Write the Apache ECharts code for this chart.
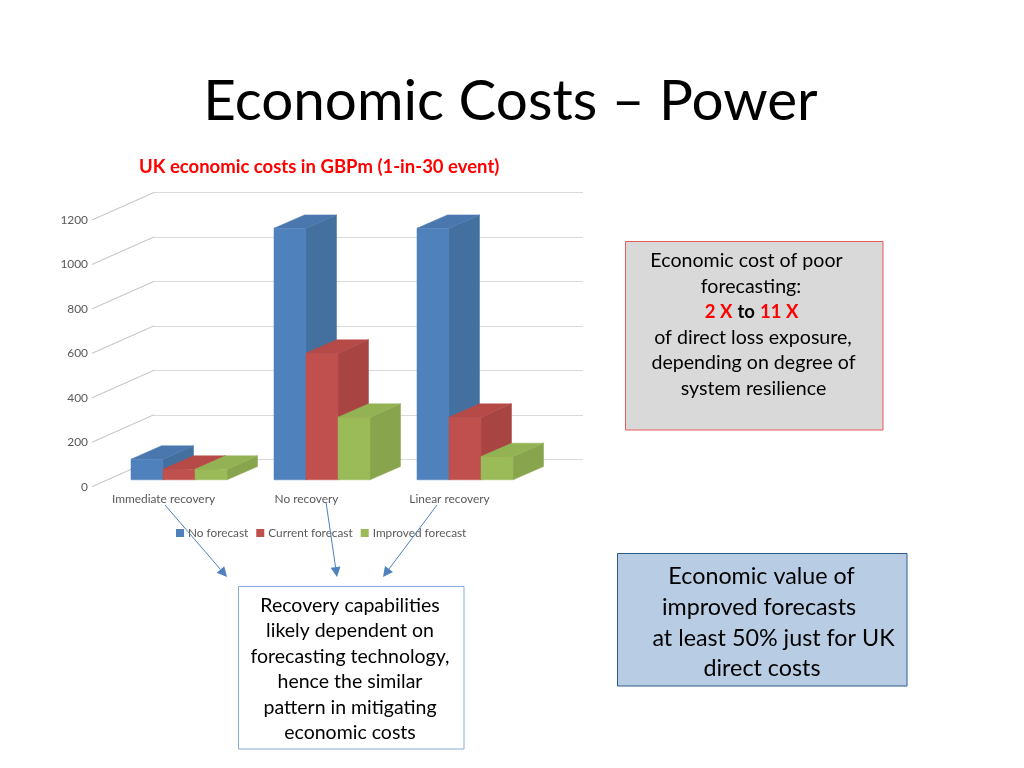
<!DOCTYPE html>
<html><head><meta charset="utf-8">
<style>html,body{margin:0;padding:0;background:#fff}#c{width:1024px;height:768px}</style>
<script src="https://cdn.jsdelivr.net/npm/echarts@6/dist/echarts.min.js"></script>
</head><body><div id="c"></div>
<script>
const categories = ['Immediate recovery', 'No recovery', 'Linear recovery'];
const noForecast = [93, 1132, 1132];
const currentForecast = [48, 570, 282];
const improvedForecast = [48, 282, 105];
const yTicks = [0, 200, 400, 600, 800, 1000, 1200];
const costLines = [
  ['Economic cost of poor', 746.5, 261], ['forecasting:', 751, 287], ['RICH', 751.5, 312],
  ['of direct loss exposure,', 753, 338], ['depending on degree of', 753.5, 363], ['system resilience', 753.5, 389]];
const valueLines = [
  ['Economic value of', 761.5, 576], ['improved forecasts', 759, 607],
  ['at least 50% just for UK', 773.5, 638], ['direct costs', 762, 668.5]];
const recoveryLines = [
  ['Recovery capabilities', 350, 605.5], ['likely dependent on', 350, 630.5], ['forecasting technology,', 350, 656.5],
  ['hence the similar', 350, 681.5], ['pattern in mitigating', 350, 707.5], ['economic costs', 350, 732.5]];
const arrows = [[165, 505, 227, 577], [326, 502, 337, 577], [437, 505, 383, 577]];

const FONT = 'Lato, Carlito, "Open Sans", sans-serif';
const DX = 62, DY = 27.5;           // full floor depth of the 3D wall
const BAR = 0.2238;                 // bar width as share of a category band
const chart = echarts.init(document.getElementById('c'), null, {renderer: 'canvas'});

function bars3d(offset, front, top, side) {
  return function (params, api) {
    const cat = api.value(0), v = api.value(1);
    const pt = api.coord([cat, v]), p0 = api.coord([cat, 0]);
    const w = api.size([1, 0])[0] * BAR;
    const x = pt[0] + (offset - 1.5) * w + DX / 4;
    const yt = pt[1] - DY / 4, yb = p0[1] - DY / 4;
    const dx = DX / 2 - 0.5, dy = DY / 2 - 0.4;
    const poly = (points, fill) => ({type: 'polygon', shape: {points}, style: {fill, stroke: fill, lineWidth: 0.5}});
    return {type: 'group', children: [
      poly([[x + w, yt], [x + w + dx, yt - dy], [x + w + dx, yb - dy], [x + w, yb]], side),
      poly([[x, yt], [x + dx, yt - dy], [x + w + dx, yt - dy], [x + w, yt]], top),
      poly([[x, yt], [x + w, yt], [x + w, yb], [x, yb]], front)
    ]};
  };
}
function barSeries(name, values, offset, front, top, side) {
  return {
    type: 'custom', name, xAxisIndex: 0, yAxisIndex: 0, clip: false,
    itemStyle: {color: front},
    data: values.map((v, i) => [i, v]),
    encode: {x: 0, y: 1},
    renderItem: bars3d(offset, front, top, side)
  };
}
const txt = (t, x, y, size, extra) => ({type: 'text', x, y, z: 20, style: Object.assign({
  text: t, fontFamily: FONT, fontSize: size, fill: '#000', align: 'center', verticalAlign: 'middle'}, extra || {})});
const graphics = [
  {type: 'rect', z: 10, shape: {x: 625.5, y: 241.5, width: 257.5, height: 188.5}, style: {fill: '#d9d9d9', stroke: '#e8595c', lineWidth: 1}},
  {type: 'rect', z: 10, shape: {x: 617.5, y: 553.5, width: 289.5, height: 132.5}, style: {fill: '#b8cce4', stroke: '#2f5a8a', lineWidth: 1}},
  {type: 'rect', z: 10, shape: {x: 238.5, y: 586.5, width: 225.5, height: 162.5}, style: {fill: '#fff', stroke: '#88acd8', lineWidth: 1}}
];
costLines.forEach(l => {
  if (l[0] === 'RICH') {
    graphics.push(txt('{r|2 X} {b|to} {r|11 X}', l[1], l[2], 20, {rich: {
      r: {fill: '#ff0000', fontWeight: 'bold', fontSize: 18.5, fontFamily: FONT},
      b: {fill: '#000', fontWeight: 'bold', fontSize: 18.5, fontFamily: FONT}}}));
  } else graphics.push(txt(l[0], l[1], l[2], 19.6));
});
valueLines.forEach(l => graphics.push(txt(l[0], l[1], l[2], 23.3)));
recoveryLines.forEach(l => graphics.push(txt(l[0], l[1], l[2], 19.5)));
arrows.forEach(a => {
  const ang = Math.atan2(a[3] - a[1], a[2] - a[0]), L = 10, W = 5;
  const bx = a[2] - L * Math.cos(ang), by = a[3] - L * Math.sin(ang);
  graphics.push({type: 'line', z: 15, shape: {x1: a[0], y1: a[1], x2: bx, y2: by}, style: {stroke: '#4f81bd', lineWidth: 1}});
  graphics.push({type: 'polygon', z: 15, shape: {points: [[a[2], a[3]],
    [bx - W * Math.sin(ang), by + W * Math.cos(ang)], [bx + W * Math.sin(ang), by - W * Math.cos(ang)]]},
    style: {fill: '#4f81bd'}});
});

chart.setOption({
  animation: false,
  backgroundColor: '#fff',
  textStyle: {fontFamily: FONT},
  title: [
    {text: 'Economic Costs – Power', left: 505.5, top: 97, textAlign: 'center', textVerticalAlign: 'middle',
      textStyle: {fontFamily: FONT, fontSize: 56.6, fontWeight: 'normal', color: '#000'}},
    {text: 'UK economic costs in GBPm (1-in-30 event)', left: 139, top: 167, textVerticalAlign: 'middle', padding: 0,
      textStyle: {fontFamily: FONT, fontSize: 18.5, fontWeight: 'bold', color: '#ff0000'}}
  ],
  legend: {
    data: ['No forecast', 'Current forecast', 'Improved forecast'],
    left: 176, top: 527, itemWidth: 8, itemHeight: 8, itemGap: 8, padding: 0,
    icon: 'rect', selectedMode: false,
    textStyle: {color: '#595959', fontSize: 11.8, fontFamily: FONT, padding: [0, 0, 0, -1]}
  },
  grid: [
    {left: 92, top: 220, width: 429, height: 266.7},
    {left: 154, top: 192.5, width: 429, height: 266.7}
  ],
  xAxis: [
    {type: 'category', gridIndex: 0, data: categories, axisLine: {show: false}, axisTick: {show: false},
      axisLabel: {color: '#595959', fontSize: 11.9, margin: 6, fontFamily: FONT}},
    {type: 'category', gridIndex: 1, data: categories, show: false}
  ],
  yAxis: [
    {type: 'value', gridIndex: 0, min: 0, max: 1200, interval: 200, axisLine: {show: false}, axisTick: {show: false},
      splitLine: {show: false},
      axisLabel: {color: '#595959', fontSize: 11.9, margin: 4, fontFamily: FONT, padding: [4, 0, 0, 0],
        formatter: v => String(v)}},
    {type: 'value', gridIndex: 1, min: 0, max: 1200, interval: 200, axisLine: {show: false}, axisTick: {show: false},
      axisLabel: {show: false}, splitLine: {show: true, lineStyle: {color: '#d9d9d9', width: 1}}}
  ],
  series: [
    {type: 'custom', xAxisIndex: 0, yAxisIndex: 0, clip: false, silent: true, z: 1,
      data: yTicks.map(t => [t]), encode: {y: 0},
      renderItem: function (params, api) {
        const p = api.coord([0, api.value(0)]);
        const x0 = p[0] - api.size([1, 0])[0] / 2;
        return {type: 'line', shape: {x1: x0, y1: p[1], x2: x0 + DX, y2: p[1] - DY},
          style: {stroke: '#bfbfbf', lineWidth: 1}};
      }},
    barSeries('No forecast', noForecast, 0, '#4f81bd', '#4a78ae', '#44709f'),
    barSeries('Current forecast', currentForecast, 1, '#c0504d', '#b54a47', '#a84442'),
    barSeries('Improved forecast', improvedForecast, 2, '#9bbb59', '#93b254', '#88a54e')
  ],
  graphic: graphics
});
</script></body></html>
